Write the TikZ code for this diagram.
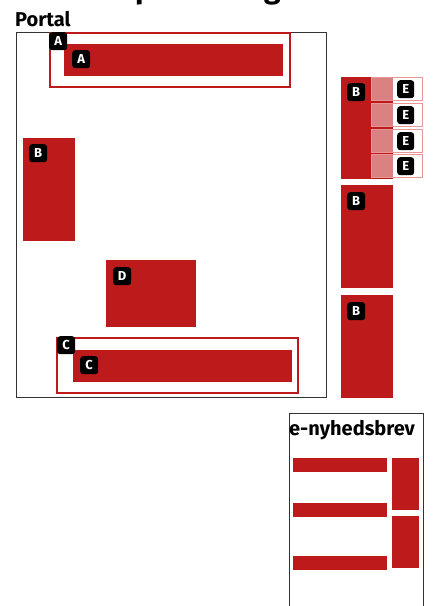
\documentclass[tikz,border=0pt]{standalone}
\usepackage{fontspec}
\setmainfont{Fira Sans}
\definecolor{portred}{RGB}{189,27,27}
\definecolor{cellpink}{RGB}{232,150,150}
\begin{document}
\begin{tikzpicture}[x=1pt,y=-1pt,
  blk/.style={fill=portred, draw=none, anchor=north west, inner sep=0pt, outer sep=0pt},
  outline/.style={draw=portred, line width=1.8pt, anchor=north west, inner sep=0pt, outer sep=0pt},
  badge/.style={fill=black, rounded corners=3pt, text=white, anchor=north west,
     font=\bfseries\fontsize{13}{13}\selectfont, minimum width=18pt, minimum height=18pt, inner sep=0pt},
  ebadge/.style={badge, minimum width=17pt},
  cell/.style={fill=white, fill opacity=0.45, draw=cellpink, line width=0.8pt, anchor=north west, inner sep=0pt,
     minimum width=51pt, minimum height=23pt},
  heading/.style={anchor=base west, inner sep=0pt, font=\bfseries\fontsize{20}{20}\selectfont},
  framel/.style={draw=black!80, line width=0.9pt}]
\useasboundingbox (0,0) rectangle (432,606);
% cropped title fragments
\begin{scope}
\clip (0,0) rectangle (432,12);
\node[anchor=base west, inner sep=0pt, font=\bfseries\fontsize{30}{30}\selectfont] (tp) at (135,-1.5) {p};
\node[anchor=base west, inner sep=0pt, font=\bfseries\fontsize{30}{30}\selectfont] (tg) at (264,-1.5) {g};
\end{scope}
% Portal
\node[heading] (portaltitle) at (15,26) {Portal};
\node[framel, anchor=north west, inner sep=0pt, minimum width=310pt, minimum height=365pt] (portal) at (16,32) {};
% A
\node[outline, minimum width=240pt, minimum height=54pt] (Aout) at (50,33) {};
\node[blk, minimum width=219pt, minimum height=32pt] (Ain) at (64,44) {};
\node[badge] (bA1) at (49,32) {A};
\node[badge] (bA2) at (72,50) {A};
% B left
\node[blk, minimum width=52pt, minimum height=103pt] (Bl) at (23,138) {};
\node[badge] (bB1) at (29,144) {B};
% D
\node[blk, minimum width=90pt, minimum height=67pt] (D) at (106,260) {};
\node[badge] (bD) at (113,267) {D};
% C
\node[outline, minimum width=241pt, minimum height=55pt] (Cout) at (57,338) {};
\node[blk, minimum width=219pt, minimum height=32pt] (Cin) at (73,350) {};
\node[badge] (bC1) at (57,336) {C};
\node[badge] (bC2) at (80,356) {C};
% right column
\node[blk, minimum width=52pt, minimum height=102pt] (BE) at (341,77) {};
\node[badge] (bB2) at (347,83) {B};
\foreach \y [count=\i] in {77,103,129,154}{
  \node[cell] (cell\i) at (371,\y) {};
  \node[ebadge] (bE\i) at (397,\y+3) {E};
}
\node[blk, minimum width=52pt, minimum height=103pt] (B2) at (341,185) {};
\node[badge] (bB3) at (347,192) {B};
\node[blk, minimum width=52pt, minimum height=103pt] (B3) at (341,295) {};
\node[badge] (bB4) at (347,302) {B};
% e-nyhedsbrev
\coordinate (nl) at (289,610);
\coordinate (nr) at (423,610);
\draw[framel] (nl) -- (289,413) -- (423,413) -- (nr);
\node[heading] (ntitle) at (289,435) {e-nyhedsbrev};
\node[blk, minimum width=94pt, minimum height=14pt] (n1) at (293,458) {};
\node[blk, minimum width=94pt, minimum height=14pt] (n2) at (293,503) {};
\node[blk, minimum width=94pt, minimum height=14pt] (n3) at (293,556) {};
\node[blk, minimum width=27pt, minimum height=52pt] (n4) at (392,458) {};
\node[blk, minimum width=27pt, minimum height=52pt] (n5) at (392,516) {};
\end{tikzpicture}
\end{document}
